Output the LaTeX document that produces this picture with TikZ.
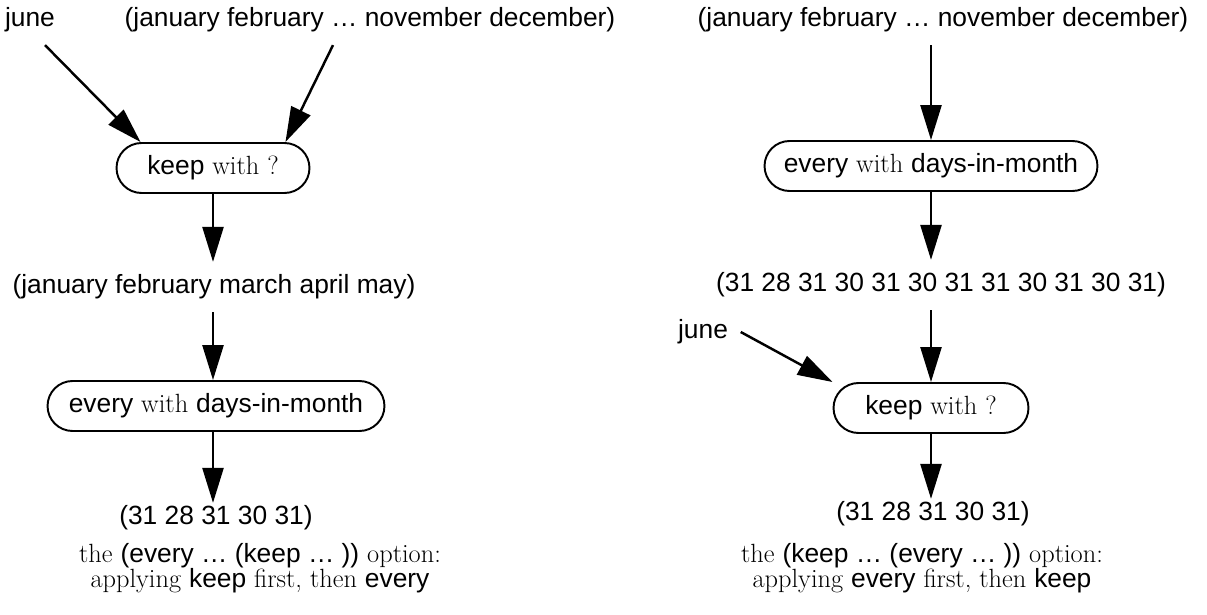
\documentclass[tikz,border=0pt]{standalone}
\usepackage{fontspec}
\setsansfont{Liberation Sans}
\usetikzlibrary{arrows.meta}
\newcommand{\code}[1]{\textsf{#1}}

\begin{document}
\begin{tikzpicture}[x=0.02cm, y=-0.02cm, font=\fontsize{15}{17}\selectfont,
  txt/.style={inner sep=0.25cm},
  res/.style={inner sep=0.05cm},
  fn/.style={draw, line width=1.1pt, rounded corners=0.5cm, minimum height=1cm, inner sep=0pt},
  caption/.style={align=center, font=\fontsize{15}{14.5}\selectfont},
  arr/.style={-{Triangle[length=0.7cm,width=0.42cm]}, line width=1.4pt}]
\useasboundingbox (0,0) rectangle (1207,615);

% left: keep first, then every
\node[txt] (june1) at (30,20) {\code{june}};
\node[txt] (months1) at (370,20) {\code{(january february … november december)}};
\node[fn, minimum width=3.86cm] (keep1) at (213,168) {\code{keep} with ?};
\node[txt] (list1) at (214,287) {\code{(january february march april may)}};
\node[fn, minimum width=6.74cm] (every1) at (216,406) {\code{every} with \code{days-in-month}};
\node[res] (res1) at (216,518) {\code{(31 28 31 30 31)}};
\node[caption] (cap1) at (260,568) {the \code{(every … (keep … ))} option:\\applying \code{keep} first, then \code{every}};

\draw[arr] ([xshift=0.3cm]june1.south) -- ([xshift=0.5cm]keep1.north west);
\draw[arr] ([xshift=-0.74cm]months1.south) -- ([xshift=-0.5cm]keep1.north east);
\draw[arr] (keep1.south) -- (keep1.south |- list1.north);
\draw[arr] (keep1.south |- list1.south) -- (keep1.south |- every1.north);
\draw[arr] (keep1.south |- every1.south) -- (keep1.south |- res1.north);

% right: every first, then keep
\node[txt] (months2) at (943,20) {\code{(january february … november december)}};
\node[fn, minimum width=6.66cm] (every2) at (931,166) {\code{every} with \code{days-in-month}};
\node[txt] (list2) at (941,285) {\code{(31 28 31 30 31 30 31 31 30 31 30 31)}};
\node[txt] (june2) at (703,332) {\code{june}};
\node[fn, minimum width=3.9cm] (keep2) at (931,408) {\code{keep} with ?};
\node[res] (res2) at (933,514) {\code{(31 28 31 30 31)}};
\node[caption] (cap2) at (922,568) {the \code{(keep … (every … ))} option:\\applying \code{every} first, then \code{keep}};

\draw[arr] (every2.north |- months2.south) -- (every2.north);
\draw[arr] (every2.south) -- (every2.south |- list2.north);
\draw[arr] (keep2.north |- list2.south) -- (keep2.north);
\draw[arr] (june2.east) -- (keep2.north west);
\draw[arr] (keep2.south) -- (keep2.south |- res2.north);
\end{tikzpicture}
\end{document}
